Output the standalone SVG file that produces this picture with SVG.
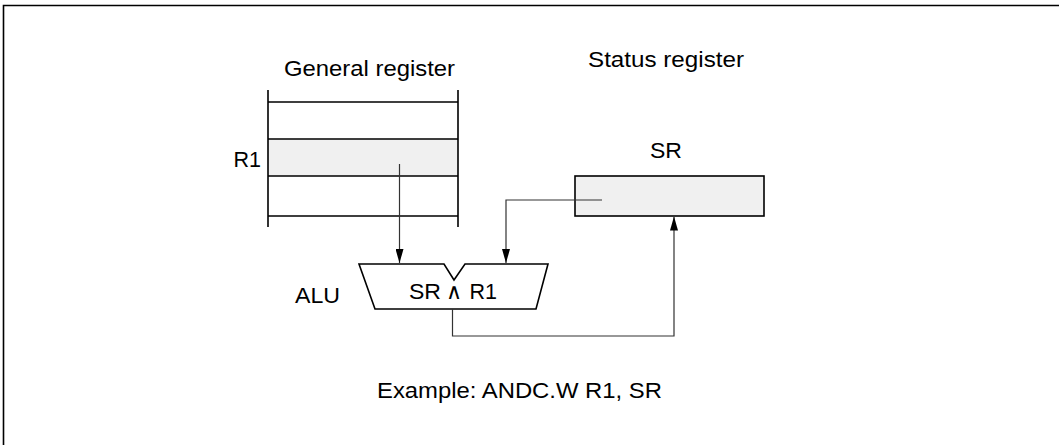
<svg xmlns="http://www.w3.org/2000/svg" width="1059" height="445" viewBox="0 0 1059 445">
<style>
  text { font-family: "Liberation Sans", Arial, sans-serif; font-size: 21.5px; fill: #000; }
  .reg { stroke: #000; stroke-width: 1.6; fill: none; }
  .conn { stroke: #333; stroke-width: 1.2; fill: none; }
</style>
<defs>
  <marker id="ah" viewBox="0 0 14 8" refX="14" refY="4" markerWidth="14" markerHeight="8" markerUnits="userSpaceOnUse" orient="auto">
    <path d="M0,0 L14,4 L0,8 Z" fill="#000"/>
  </marker>
</defs>
<rect width="1059" height="445" fill="#fff"/>
<path d="M3.5,445 V5.5 H1059" stroke="#000" stroke-width="1.6" fill="none"/>

<g id="general-register">
  <rect x="268" y="139" width="190" height="37" fill="#f0f0f0"/>
  <path class="reg" d="M268,90 V227 M458,90 V227 M268,102 H458 M268,139 H458 M268,176 H458 M268,216 H458"/>
  <text x="284" y="76" textLength="171" lengthAdjust="spacingAndGlyphs">General register</text>
  <text x="261" y="167" text-anchor="end">R1</text>
</g>

<g id="status-register">
  <text x="588" y="67" textLength="156" lengthAdjust="spacingAndGlyphs">Status register</text>
  <text x="650" y="158" textLength="32" lengthAdjust="spacingAndGlyphs">SR</text>
  <rect x="575" y="176" width="189" height="40" fill="#f0f0f0" stroke="#000" stroke-width="1.6"/>
</g>

<g id="alu">
  <polygon points="359,264 444,264 454,280 465,264 548,264 536,309 375,309" fill="#fff" stroke="#000" stroke-width="1.6"/>
  <text x="295" y="303" textLength="45" lengthAdjust="spacingAndGlyphs">ALU</text>
  <text x="409" y="299" textLength="32" lengthAdjust="spacingAndGlyphs">SR</text>
  <text x="454" y="299" text-anchor="middle" font-size="11" font-family="'DejaVu Sans', sans-serif">∧</text>
  <text x="497" y="299" text-anchor="end">R1</text>
</g>

<g id="connectors">
  <path class="conn" d="M399.5,164 V263" marker-end="url(#ah)"/>
  <path class="conn" d="M602,200 H506 V263" marker-end="url(#ah)"/>
  <path class="conn" d="M452.5,309 V336 H674 V216.5" marker-end="url(#ah)"/>
</g>

<g id="caption">
  <text x="377" y="398" textLength="285" lengthAdjust="spacingAndGlyphs">Example: ANDC.W R1, SR</text>
</g>
</svg>
